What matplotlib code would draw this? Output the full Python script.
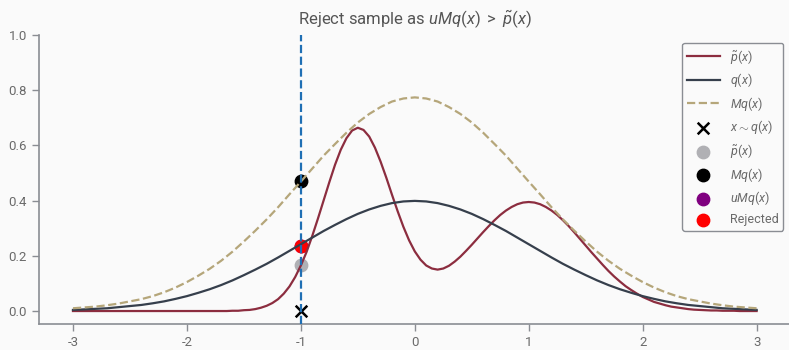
import matplotlib
matplotlib.use('Agg')
import matplotlib.pyplot as plt

plt.rcParams['font.family'] = ['Roboto', 'DejaVu Sans']
plt.rcParams['font.weight'] = 'normal'
plt.rcParams['mathtext.fontset'] = 'custom'
plt.rcParams['mathtext.rm'] = 'Roboto'
plt.rcParams['mathtext.it'] = 'Roboto:italic'

# coarse grid for q(x) and Mq(x): step 0.1 from -3 to 3
xs = [round(-3 + 0.1 * i, 2) for i in range(61)]

# q(x) (half, symmetric around 0)
q_half = [0.399, 0.397, 0.391, 0.381, 0.368, 0.352, 0.333, 0.312, 0.290, 0.266,
          0.242, 0.218, 0.194, 0.171, 0.150, 0.130, 0.111, 0.094, 0.079, 0.066,
          0.054, 0.044, 0.035, 0.028, 0.022, 0.018, 0.014, 0.010, 0.008, 0.006, 0.004]
q_vals = q_half[:0:-1] + q_half

# Mq(x), dashed envelope
mq_half = [0.774, 0.770, 0.759, 0.739, 0.714, 0.683, 0.646, 0.605, 0.563, 0.516,
           0.469, 0.423, 0.376, 0.332, 0.291, 0.252, 0.215, 0.182, 0.153, 0.128,
           0.105, 0.085, 0.068, 0.054, 0.043, 0.035, 0.027, 0.021, 0.016, 0.013, 0.010]
mq_vals = mq_half[:0:-1] + mq_half

# finer grid for p~(x): step 0.05 from -3 to 3
xs_p = [round(-3 + 0.05 * i, 2) for i in range(121)]
p_vals = [0.000, 0.000, 0.000, 0.000, 0.000, 0.000, 0.000, 0.000, 0.000, 0.000,
          0.000, 0.000, 0.000, 0.000, 0.000, 0.000, 0.000, 0.000, 0.000, 0.000,
          0.000, 0.000, 0.000, 0.000, 0.000, 0.000, 0.000, 0.000,
          0.001, 0.001, 0.003, 0.004, 0.007, 0.012, 0.019, 0.029, 0.043, 0.063,
          0.089, 0.123, 0.165, 0.214, 0.272, 0.335, 0.401, 0.467, 0.530, 0.584,
          0.626, 0.654, 0.664, 0.656, 0.632, 0.592, 0.541, 0.483, 0.421, 0.361,
          0.305, 0.256, 0.216, 0.186, 0.165, 0.154, 0.150, 0.154, 0.164, 0.179,
          0.197, 0.218, 0.240, 0.263, 0.286, 0.308, 0.329, 0.348, 0.364, 0.377,
          0.387, 0.393, 0.395, 0.393, 0.387, 0.377, 0.364, 0.348, 0.329, 0.308,
          0.285, 0.261, 0.237, 0.213, 0.190, 0.167, 0.145, 0.125, 0.107, 0.090,
          0.076, 0.063, 0.051, 0.042, 0.033, 0.027, 0.021, 0.016, 0.013, 0.010,
          0.007, 0.005, 0.004, 0.003, 0.002, 0.002, 0.001, 0.001, 0.001, 0.000,
          0.000, 0.000, 0.000]

# the sample
x_sample = -1.0
p_sample = 0.165
mq_sample = 0.470
umq_sample = 0.235

fig = plt.figure(figsize=(7.89, 3.5), dpi=100, facecolor='#fafafa')
ax = fig.add_axes([38.8 / 789, 26 / 350, 752 / 789, 289 / 350])
ax.set_facecolor('#fafafa')

ax.plot(xs_p, p_vals, color='#8c2d3f', lw=1.6, label=r'$\tilde{p}(x)$', zorder=3)
ax.plot(xs, q_vals, color='#363f4c', lw=1.6, label=r'$q(x)$', zorder=3)
ax.plot(xs, mq_vals, color='#b5a67a', lw=1.6, ls='--', label=r'$Mq(x)$', zorder=3)
ax.axvline(x_sample, color='#1f6fb4', lw=1.6, ls='--', zorder=4)

ax.scatter([x_sample], [0], marker='x', color='black', s=70, lw=1.8,
           label=r'$x \sim q(x)$', zorder=2)
ax.scatter([x_sample], [p_sample], color='#b0b0b4', s=80, label=r'$\tilde{p}(x)$', zorder=2)
ax.scatter([x_sample], [mq_sample], color='black', s=80, label=r'$Mq(x)$', zorder=2)
ax.scatter([x_sample], [umq_sample], color='purple', s=80, label=r'$uMq(x)$', zorder=2)
ax.scatter([x_sample], [umq_sample], color='red', s=80, label='Rejected', zorder=2)

ax.set_xlim(-3.3, 3.3)
ax.set_ylim(-0.047, 1.0)
ax.set_xticks([-3, -2, -1, 0, 1, 2, 3])
ax.set_yticks([0.0, 0.2, 0.4, 0.6, 0.8, 1.0])
ax.set_xticklabels(['-3', '-2', '-1', '0', '1', '2', '3'])

for s in ['top', 'right']:
    ax.spines[s].set_visible(False)
for s in ['left', 'bottom']:
    ax.spines[s].set_color('#8a8d93')
    ax.spines[s].set_linewidth(1.2)
ax.tick_params(colors='#8a8d93', labelcolor='#6a6a6a', labelsize=9.5, length=5, width=1)

ax.set_title(r'Reject sample as $uMq(x)$ $>$ $\tilde{p}(x)$', fontsize=12,
             color='#555555', pad=8)

leg = ax.legend(loc='upper right', fontsize=9, labelspacing=0.45,
                handlelength=2.6, borderaxespad=0.6, frameon=True, fancybox=True)
leg.get_frame().set_edgecolor('#8a8d93')
leg.get_frame().set_facecolor('#fafafa')
leg.get_frame().set_alpha(1)
for t in leg.get_texts():
    t.set_color('#6a6a6a')

fig.savefig('out.png', dpi=100, facecolor=fig.get_facecolor())
